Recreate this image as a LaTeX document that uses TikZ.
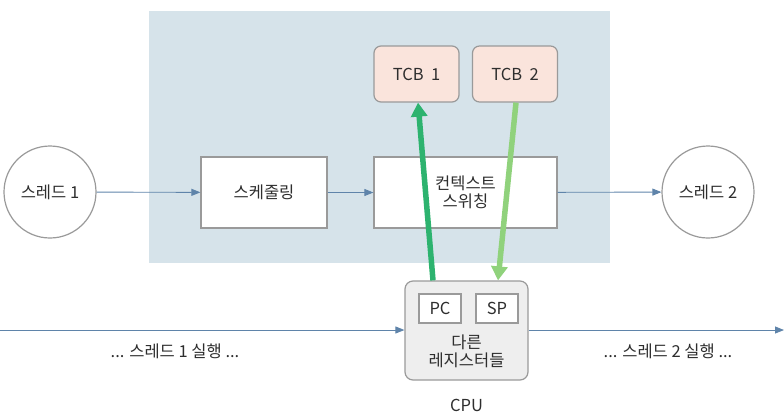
\documentclass[tikz,border=0pt]{standalone}
\usepackage{fontspec}
\setmainfont{Noto Sans CJK KR}
\usetikzlibrary{arrows.meta}
\definecolor{bgblue}{HTML}{D6E3EA}
\definecolor{tcbfill}{HTML}{FAE4DC}
\definecolor{edgegray}{HTML}{9A9A9A}
\definecolor{cpufill}{HTML}{EEEEEE}
\definecolor{flowblue}{HTML}{5F84AA}
\definecolor{dgreen}{HTML}{2DB36F}
\definecolor{lgreen}{HTML}{90D27C}
\definecolor{txt}{HTML}{2E2E2E}
\tikzset{
  lbl/.style={text=txt, font=\fontsize{16.5}{20}\selectfont, align=center},
  boxw/.style={lbl, draw=edgegray, line width=1.2pt, fill=white, minimum width=#1, minimum height=71, inner sep=0},
  tcb/.style={lbl, draw=edgegray, line width=1.2pt, fill=tcbfill, rounded corners=7, minimum width=85, minimum height=56, inner sep=0},
  thr/.style={lbl, circle, draw=edgegray, line width=1.2pt, fill=white, minimum size=92, inner sep=0},
  flow/.style={draw=flowblue, line width=0.9pt, -{Triangle[length=9pt,width=7pt]}},
  sw/.style={line width=5.5pt, -{Triangle[length=14pt,width=16pt]}},
  reg/.style={lbl, draw=edgegray, line width=1.2pt, fill=white, minimum width=42, minimum height=29, inner sep=0}
}
\begin{document}
\begin{tikzpicture}[x=1pt,y=-1pt]
\useasboundingbox (0,0) rectangle (784,413);
\fill[bgblue] (149,11) rectangle (610,263);
\node[tcb] (tcb1) at (416.5,74) {TCB\ \ 1};
\node[tcb] (tcb2) at (515,74) {TCB\ \ 2};
\node[boxw=126] (sched) at (264,192.5) {스케줄링};
\node[boxw=183] (ctx) at (465.5,192.5) {컨텍스트\\[-2pt]스위칭};
\node[thr] (t1) at (50,192) {스레드\ 1};
\node[thr] (t2) at (708,192) {스레드\ 2};
\node[draw=edgegray, line width=1.2pt, fill=cpufill, rounded corners=8, minimum width=123, minimum height=99, inner sep=0] (cpu) at (466.5,330.5) {};
\node[reg] (pc) at (440,308.5) {PC};
\node[reg] (sp) at (497,308.5) {SP};
\node[lbl] (other) at (466.5,351) {다른\\[-2pt]레지스터들};
\node[lbl] (cpulbl) at (466.5,405) {CPU};
\coordinate (lstart) at (0,330);
\coordinate (rend) at (784,330);
\node[lbl] (run1) at (175,351) {... 스레드 1 실행 ...};
\node[lbl] (run2) at (668,351) {... 스레드 2 실행 ...};
\draw[flow] (t1) -- (sched);
\draw[flow] (sched) -- (ctx);
\draw[flow] (ctx) -- (t2);
\draw[flow] (lstart) -- (lstart -| cpu.west);
\draw[flow] (cpu.east |- rend) -- (rend);
\draw[sw, draw=dgreen, fill=dgreen] (cpu.north -| 433,0) -- (tcb1.south -| 418,0);
\draw[sw, draw=lgreen, fill=lgreen] (tcb2.south -| 516,0) -- (cpu.north -| 498,0);
\end{tikzpicture}
\end{document}
